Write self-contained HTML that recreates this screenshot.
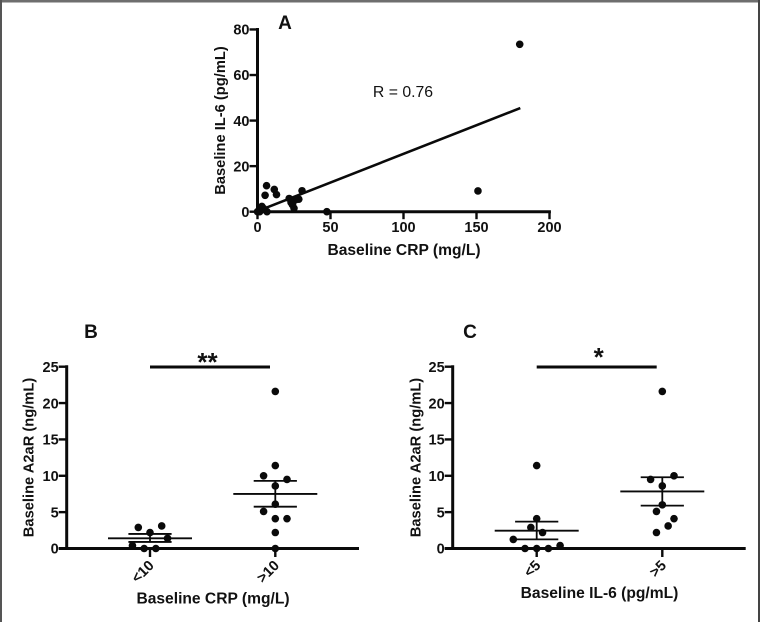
<!DOCTYPE html>
<html lang="en">
<head>
<meta charset="utf-8">
<title>Baseline A2aR, CRP and IL-6</title>
<style>
html,body{margin:0;padding:0;background:#fff;width:761px;height:622px;overflow:hidden}
svg{display:block;filter:blur(.35px)}
text{font-family:"Liberation Sans",sans-serif;fill:#111}
.tick{font-size:14.5px;font-weight:700}
.title{font-size:15.6px;font-weight:700}
.ytitle{font-size:14.7px;font-weight:700}
.panel{font-size:19px;font-weight:700}
</style>
</head>
<body>
<svg id="figure" width="761" height="622" viewBox="0 0 761 622" xmlns="http://www.w3.org/2000/svg">
  <rect x="0" y="0" width="760" height="2.5" fill="#6e6e6e"/>
  <rect x="0" y="0" width="2" height="622" fill="#555"/>
  <rect x="758" y="0" width="2" height="622" fill="#444"/>
</svg>
<script>
// Panel A: scatter
const aCrp = [6.2, 5.2, 11.5, 13, 21.7, 30.5, 28.3, 26, 23, 24, 25, 47.5, 3, 2, 0, 6.5, 4, 1.5, 151, 179.6];
const aIl6 = [11.4, 7.2, 9.8, 7.5, 5.8, 9.2, 5.5, 5.2, 4, 3, 1.5, 0, 2.3, 1, 0, 0, 1.5, 0, 9.1, 73.5];
const aFitCrp = [3, 180];
const aFitIl6 = [1, 45.5];
const aXTicks = [0, 50, 100, 150, 200];
const aYTicks = [0, 20, 40, 60, 80];
const aR = 'R = 0.76';

// Panels B and C: shared y ticks
const groupYTicks = [0, 5, 10, 15, 20, 25];

// Panel B: values and their horizontal jitter slots
const bCategories = ['<10', '>10'];
const bLowValues = [2.9, 3.1, 2.2, 1.4, 0.4, 0, 0];
const bLowSlots = [-1, 1, 0, 1.5, -1.5, -0.5, 0.5];
const bHighValues = [21.6, 11.4, 10, 9.5, 8.6, 6.1, 5.1, 4.1, 4.1, 2.2, 0];
const bHighSlots = [0, 0, -1, 1, 0, 0, -1, 0, 1, 0, 0];
const bMeans = [1.4, 7.5];
const bUpper = [2.0, 9.3];
const bLower = [0.9, 5.75];

// Panel C: values and their horizontal jitter slots
const cCategories = ['<5', '>5'];
const cLowValues = [11.4, 4.1, 2.9, 2.2, 1.25, 0.4, 0, 0, 0];
const cLowSlots = [0, 0, -0.5, 0.5, -2, 2, -1, 0, 1];
const cHighValues = [21.6, 10, 9.5, 8.6, 6.0, 5.1, 4.1, 3.1, 2.2];
const cHighSlots = [0, 1, -1, 0, 0, -0.5, 1, 0.5, -0.5];
const cMeans = [2.45, 7.85];
const cUpper = [3.7, 9.8];
const cLower = [1.25, 5.9];

const svg = document.getElementById('figure');
const NS = 'http://www.w3.org/2000/svg';

function make(tag, attrs, text) {
  const el = document.createElementNS(NS, tag);
  for (const k in attrs) el.setAttribute(k, attrs[k]);
  if (text !== undefined) el.textContent = text;
  
  svg.appendChild(el);
  return el;
}
function line(x1, y1, x2, y2, w, name) {
  const el = make('line', {x1: x1, y1: y1, x2: x2, y2: y2, stroke: '#0a0a0a', 'stroke-width': w});
  
  return el;
}
function dot(x, y, name) {
  const el = make('circle', {cx: x, cy: y, r: 3.8, fill: '#0a0a0a'});
  
  return el;
}
function label(x, y, str, cls, anchor, name, rot) {
  const attrs = {x: x, y: y, class: cls, 'text-anchor': anchor || 'middle'};
  if (rot !== undefined) attrs.transform = 'rotate(' + rot + ' ' + x + ' ' + y + ')';
  const el = make('text', attrs, str);
  
  return el;
}

/* ---------- Panel A ---------- */
const ax = v => 257.5 + v * 1.46;
const ay = v => 211.7 - v * 2.278;

line(ax(0), ay(0) + 1.4, ax(0), ay(80) - 1.4, 3, 'a-y-axis');
line(ax(0) - 1.4, ay(0), ax(200) + 1.4, ay(0), 3, 'a-x-axis');
aYTicks.forEach(t => {
  line(ax(0) - 8, ay(t), ax(0), ay(t), 2.4, 'a-y-tick');
  label(ax(0) - 8, ay(t) + 5.2, String(t), 'tick', 'end', 'a-y-tick-label');
});
aXTicks.forEach(t => {
  line(ax(t), ay(0), ax(t), ay(0) + 7.5, 2.4, 'a-x-tick');
  label(ax(t), ay(0) + 20.5, String(t), 'tick', 'middle', 'a-x-tick-label');
});
line(ax(aFitCrp[0]), ay(aFitIl6[0]), ax(aFitCrp[1]), ay(aFitIl6[1]), 2.6, 'a-regression-line');
aCrp.forEach((c, i) => dot(ax(c), ay(aIl6[i]), 'a-point'));
label(404, 255, 'Baseline CRP (mg/L)', 'title', 'middle', 'a-x-axis-title');
label(225, 120.5, 'Baseline IL-6 (pg/mL)', 'ytitle', 'middle', 'a-y-axis-title', -90);
label(285, 29, 'A', 'panel', 'middle', 'panel-a-label');
const rText = label(403, 97, aR, 'r-value', 'middle', 'correlation-label');
rText.setAttribute('font-size', '15.8');

/* ---------- Panels B and C ---------- */
function groupPanel(p) {
  const gy = v => 548.5 - v * 7.272;
  const cx = i => p.cat0 + i * p.catStep;
  const slot = 11.7;

  line(p.axisX, gy(0) + 1.4, p.axisX, gy(25) - 1.4, 3, p.id + '-y-axis');
  line(p.axisX - 8, gy(0), p.axisEnd, gy(0), 3, p.id + '-x-axis');
  groupYTicks.forEach(t => {
    line(p.axisX - 8, gy(t), p.axisX, gy(t), 2.4, p.id + '-y-tick');
    label(p.axisX - 8, gy(t) + 5.2, String(t), 'tick', 'end', p.id + '-y-tick-label');
  });
  p.categories.forEach((c, i) => {
    line(cx(i), gy(0), cx(i), gy(0) + 8.5, 2.4, p.id + '-x-tick');
    label(cx(i) - 2, gy(0) + 11, c, 'tick', 'end', p.id + '-x-tick-label', -45).setAttribute('dominant-baseline', 'hanging');
  });

  [[p.lowValues, p.lowSlots], [p.highValues, p.highSlots]].forEach((g, i) => {
    g[0].forEach((v, j) => dot(cx(i) + g[1][j] * slot, gy(v), p.id + '-point'));
    line(cx(i) - 42, gy(p.means[i]), cx(i) + 42, gy(p.means[i]), 1.8, p.id + '-mean-line');
    line(cx(i) - 21.6, gy(p.upper[i]), cx(i) + 21.6, gy(p.upper[i]), 1.8, p.id + '-sem-upper');
    line(cx(i) - 21.6, gy(p.lower[i]), cx(i) + 21.6, gy(p.lower[i]), 1.8, p.id + '-sem-lower');
    line(cx(i), gy(p.upper[i]), cx(i), gy(p.lower[i]), 1.8, p.id + '-sem-stem');
  });

  line(p.barFrom, gy(25) + 0.3, p.barTo, gy(25) + 0.3, 3, p.id + '-significance-bar');
  const star = label(p.starX, p.starY, p.stars, 'stars', 'middle', p.id + '-significance-stars');
  star.setAttribute('font-size', '26');
  star.setAttribute('font-weight', '700');
  label(p.titleX, p.titleY, p.xTitle, 'title', 'middle', p.id + '-x-axis-title');
  label(p.yTitleX, 457.5, 'Baseline A2aR (ng/mL)', 'ytitle', 'middle', p.id + '-y-axis-title', -90);
  label(p.letterX, 338, p.letter, 'panel', 'middle', 'panel-' + p.id + '-label');
}

groupPanel({
  id: 'b', letter: 'B', letterX: 91, axisX: 66.7, axisEnd: 359, cat0: 150, catStep: 125.3,
  categories: bCategories, lowValues: bLowValues, lowSlots: bLowSlots,
  highValues: bHighValues, highSlots: bHighSlots,
  means: bMeans, upper: bUpper, lower: bLower,
  barFrom: 150, barTo: 270, stars: '**', starX: 207.5, starY: 371,
  xTitle: 'Baseline CRP (mg/L)', titleX: 213, titleY: 603.5, yTitleX: 33.5
});
groupPanel({
  id: 'c', letter: 'C', letterX: 470, axisX: 452.7, axisEnd: 745.7, cat0: 536.7, catStep: 125.6,
  categories: cCategories, lowValues: cLowValues, lowSlots: cLowSlots,
  highValues: cHighValues, highSlots: cHighSlots,
  means: cMeans, upper: cUpper, lower: cLower,
  barFrom: 536.7, barTo: 656.7, stars: '*', starX: 598.7, starY: 366,
  xTitle: 'Baseline IL-6 (pg/mL)', titleX: 599.5, titleY: 598, yTitleX: 420.5
});
</script>
</body>
</html>
